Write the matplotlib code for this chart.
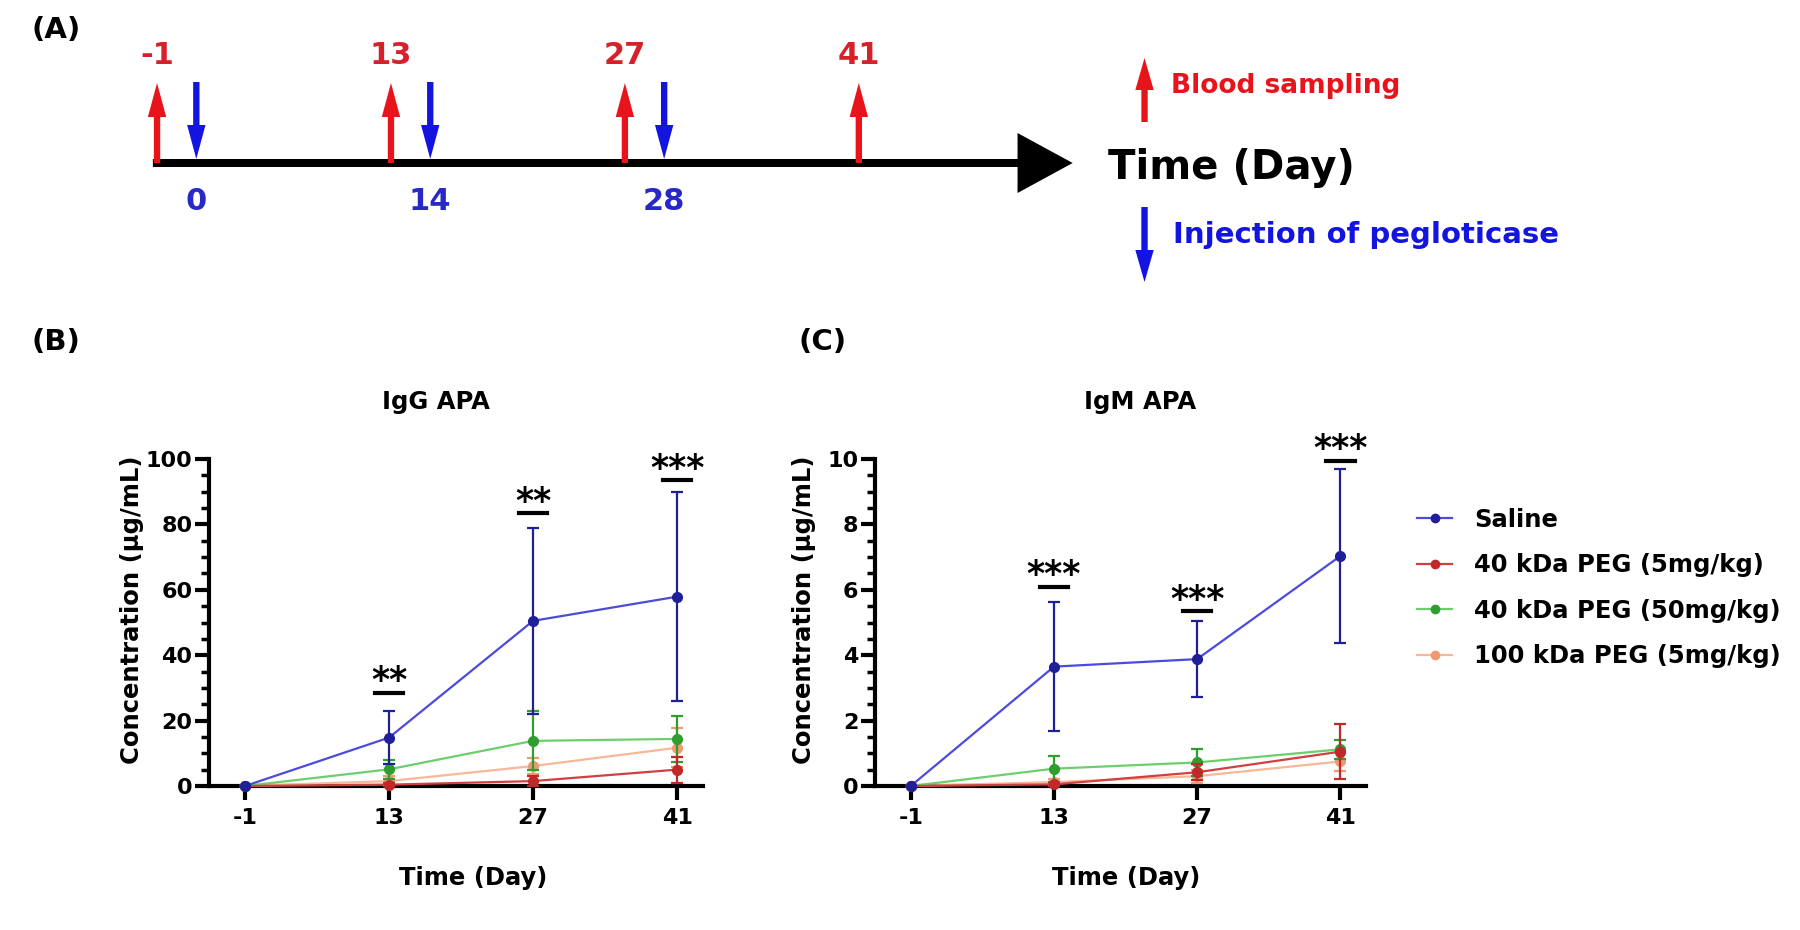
import numpy as np
import matplotlib
matplotlib.use('Agg')
import matplotlib.pyplot as plt
from matplotlib.lines import Line2D
from matplotlib.ticker import MultipleLocator
from matplotlib.transforms import blended_transform_factory

plt.rcParams['font.family'] = ['DejaVu Sans']
plt.rcParams['font.weight'] = 'bold'
plt.rcParams['axes.labelweight'] = 'bold'

# ---- timeline (panel A) ----
sample_days = [-1, 13, 27, 41]
injection_days = [0, 14, 28]

# ---- APA concentrations (panels B, C) ----
days = ['-1', '13', '27', '41']
groups = ['Saline', '40 kDa PEG (5mg/kg)', '40 kDa PEG (50mg/kg)', '100 kDa PEG (5mg/kg)']

igg_saline = [0, 14.8, 50.5, 57.9]
igg_saline_sd = [0, 8.0, 28.5, 32.0]
igg_peg40_5 = [0, 0.4, 1.5, 5.0]
igg_peg40_5_sd = [0, 0.4, 1.5, 4.0]
igg_peg40_50 = [0, 5.1, 13.8, 14.4]
igg_peg40_50_sd = [0, 3.0, 9.0, 7.0]
igg_peg100_5 = [0, 1.5, 6.1, 11.7]
igg_peg100_5_sd = [0, 1.5, 2.5, 6.0]

igm_saline = [0, 3.65, 3.88, 7.03]
igm_saline_sd = [0, 1.98, 1.16, 2.66]
igm_peg40_5 = [0, 0.05, 0.42, 1.05]
igm_peg40_5_sd = [0, 0.05, 0.25, 0.85]
igm_peg40_50 = [0, 0.53, 0.72, 1.12]
igm_peg40_50_sd = [0, 0.40, 0.42, 0.30]
igm_peg100_5 = [0, 0.12, 0.30, 0.75]
igm_peg100_5_sd = [0, 0.10, 0.20, 0.30]

igg_sig = ['**', '**', '***']
igg_sig_y = [28.5, 83.5, 93.5]
igm_sig = ['***', '***', '***']
igm_sig_y = [6.1, 5.35, 9.95]

marker_cols = ['#1f1f99', '#c0282a', '#2f9e2f', '#f09a72']
line_cols = ['#4b4bdc', '#d04040', '#6ccf6c', '#f6b898']
red = '#e8141c'
blue = '#1414e0'

fig = plt.figure(figsize=(18, 9.3), dpi=100)

# panel A: schematic timeline, x in days, y in pixel rows from the top
ax_a = fig.add_axes([0, 1 - 300 / 930, 1, 300 / 930])
ax_a.set_xlim(-10.40, 97.33)
ax_a.set_ylim(300, 0)
ax_a.axis('off')

line_y = 163
start = sample_days[0] - 0.25
ax_a.arrow(start, line_y, 53.8 - start, 0, width=8, head_width=60, head_length=3.3,
           length_includes_head=True, fc='black', ec='none', zorder=2)
for d in sample_days:
    ax_a.arrow(d, line_y, 0, -80, width=0.38, head_width=1.1, head_length=34,
               length_includes_head=True, fc=red, ec='none', zorder=3)
    ax_a.text(d, 56, str(d), ha='center', va='center', color='#d8202a', fontsize=22)
for d in injection_days:
    ax_a.arrow(d + 1.35, 82, 0, 77, width=0.38, head_width=1.1, head_length=34,
               length_includes_head=True, fc=blue, ec='none', zorder=3)
    ax_a.text(d + 1.35, 202, str(d), ha='center', va='center', color='#2828c8', fontsize=22)

# key for the arrows
ax_a.arrow(58.1, 122, 0, -64, width=0.38, head_width=1.1, head_length=32,
           length_includes_head=True, fc=red, ec='none')
ax_a.arrow(58.1, 207, 0, 75, width=0.38, head_width=1.1, head_length=32,
           length_includes_head=True, fc=blue, ec='none')
trans = blended_transform_factory(fig.transFigure, ax_a.transData)
ax_a.text(1108 / 1800, 168, 'Time (Day)', transform=trans, fontsize=29, va='center')
ax_a.text(1171 / 1800, 86, 'Blood sampling', transform=trans, fontsize=19, color=red, va='center')
ax_a.text(1173 / 1800, 235, 'Injection of pegloticase', transform=trans, fontsize=21,
          color=blue, va='center')


def draw_panel(ax, series, sds, sig, sig_y, ymax, ystep, yminor, title, title_x):
    x = np.arange(len(days))
    order = [3, 2, 1, 0]
    for i in order:
        ax.errorbar(x, series[i], yerr=sds[i], color=line_cols[i], ecolor=marker_cols[i],
                    marker='o', mfc=marker_cols[i], mec=marker_cols[i], ms=7, lw=1.6,
                    elinewidth=1.6, capsize=4, capthick=1.6, zorder=5 - i * 0.5 + 1,
                    clip_on=False)
    for xi, lab, y in zip(x[1:], sig, sig_y):
        ax.plot([xi - 0.1, xi + 0.1], [y, y], color='black', lw=3, clip_on=False, zorder=8)
        ax.annotate(lab, (xi, y), xytext=(0, 1), textcoords='offset points',
                    ha='center', va='baseline', fontsize=25, zorder=8)
    ax.set_xlim(-0.25, 3.18)
    ax.set_ylim(0, ymax)
    ax.set_xticks(x)
    ax.set_xticklabels(days)
    ax.set_yticks(np.arange(0, ymax + ystep / 2, ystep))
    ax.yaxis.set_minor_locator(MultipleLocator(yminor))
    for s in ['top', 'right']:
        ax.spines[s].set_visible(False)
    for s in ['left', 'bottom']:
        ax.spines[s].set_linewidth(3)
    ax.tick_params(axis='both', which='major', width=3, length=10, labelsize=16)
    ax.tick_params(axis='y', which='major', pad=2)
    ax.tick_params(axis='x', which='major', pad=6)
    ax.tick_params(axis='y', which='minor', width=2.5, length=6)
    ax.set_ylabel('Concentration (μg/mL)', fontsize=17.5)
    ax.set_xlabel('Time (Day)', fontsize=17.5)
    ax.text(title_x, 1.174, title, transform=ax.transAxes, ha='center', va='center',
            fontsize=17.5)


ax_b = fig.add_axes([209 / 1800, 1 - 786 / 930, 494 / 1800, 327 / 930])
draw_panel(ax_b,
           [igg_saline, igg_peg40_5, igg_peg40_50, igg_peg100_5],
           [igg_saline_sd, igg_peg40_5_sd, igg_peg40_50_sd, igg_peg100_5_sd],
           igg_sig, igg_sig_y, 100, 20, 5, 'IgG APA', 0.46)
ax_b.yaxis.set_label_coords(-0.132, 0.54)
ax_b.xaxis.set_label_coords(0.534, -0.245)

ax_c = fig.add_axes([875 / 1800, 1 - 786 / 930, 491 / 1800, 327 / 930])
draw_panel(ax_c,
           [igm_saline, igm_peg40_5, igm_peg40_50, igm_peg100_5],
           [igm_saline_sd, igm_peg40_5_sd, igm_peg40_50_sd, igm_peg100_5_sd],
           igm_sig, igm_sig_y, 10, 2, 0.5, 'IgM APA', 0.54)
ax_c.yaxis.set_label_coords(-0.12, 0.54)
ax_c.xaxis.set_label_coords(0.511, -0.245)

handles = [Line2D([0], [0], color=line_cols[i], marker='o', mfc=marker_cols[i],
                  mec=marker_cols[i], ms=6, lw=1.6) for i in range(4)]
fig.legend(handles, groups, loc='center left', bbox_to_anchor=(1405 / 1800, 1 - 588 / 930),
           frameon=False, borderpad=0, handlelength=1.45, handletextpad=0.9,
           labelspacing=0.89, fontsize=17.5)

fig.text(56 / 1800, 1 - 30 / 930, '(A)', ha='center', va='center', fontsize=21)
fig.text(56 / 1800, 1 - 342 / 930, '(B)', ha='center', va='center', fontsize=21)
fig.text(823 / 1800, 1 - 342 / 930, '(C)', ha='center', va='center', fontsize=21)

fig.savefig('out.png', dpi=100)
